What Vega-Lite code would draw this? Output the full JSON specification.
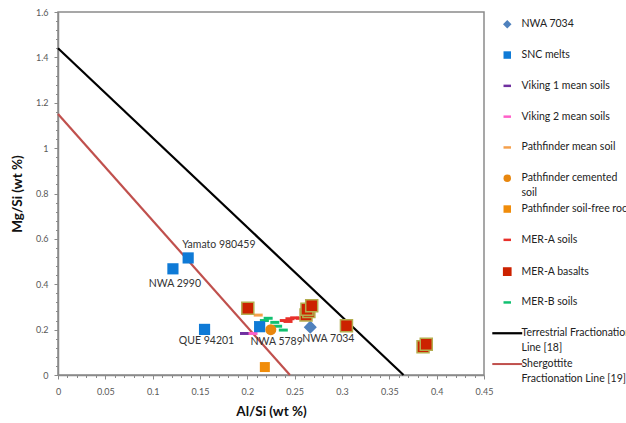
{
  "$schema": "https://vega.github.io/schema/vega-lite/v6.json",
  "width": 426,
  "height": 363,
  "autosize": {"type": "none"},
  "padding": {"left": 58, "top": 12, "right": 142, "bottom": 48},
  "config": {
    "font": "Lato",
    "view": {"stroke": "#8a8a8a", "strokeWidth": 1.5},
    "axis": {
      "domainColor": "#8a8a8a", "domainWidth": 1.5, "tickColor": "#8a8a8a", "grid": false,
      "labelFont": "Lato", "labelFontSize": 9, "labelColor": "#595959",
      "titleFont": "Lato", "titleFontSize": 13.5, "titleFontWeight": "bold", "titleColor": "#111"
    }
  },
  "datasets": {
    "pts": [
      {"series": "NWA 7034", "x": 0.2665, "y": 0.211, "name": "NWA 7034"},
      {"series": "SNC melts", "x": 0.1214, "y": 0.468, "name": "NWA 2990"},
      {"series": "SNC melts", "x": 0.1375, "y": 0.516, "name": "Yamato 980459"},
      {"series": "SNC melts", "x": 0.1548, "y": 0.201, "name": "QUE 94201"},
      {"series": "SNC melts", "x": 0.213, "y": 0.213, "name": "NWA 5789"},
      {"series": "Viking 1 mean soils", "x": 0.197, "y": 0.183},
      {"series": "Viking 2 mean soils", "x": 0.206, "y": 0.183},
      {"series": "Pathfinder mean soil", "x": 0.2115, "y": 0.264},
      {"series": "Pathfinder cemented soil", "x": 0.2248, "y": 0.2},
      {"series": "Pathfinder soil-free rock", "x": 0.2185, "y": 0.035},
      {"series": "MER-A soils", "x": 0.239, "y": 0.24},
      {"series": "MER-A soils", "x": 0.245, "y": 0.248},
      {"series": "MER-A soils", "x": 0.25, "y": 0.252},
      {"series": "MER-A soils", "x": 0.256, "y": 0.25},
      {"series": "MER-A soils", "x": 0.243, "y": 0.236},
      {"series": "MER-A basalts", "x": 0.2005, "y": 0.294},
      {"series": "MER-A basalts", "x": 0.262, "y": 0.265},
      {"series": "MER-A basalts", "x": 0.265, "y": 0.28},
      {"series": "MER-A basalts", "x": 0.263, "y": 0.29},
      {"series": "MER-A basalts", "x": 0.268, "y": 0.305},
      {"series": "MER-A basalts", "x": 0.3047, "y": 0.217},
      {"series": "MER-A basalts", "x": 0.3856, "y": 0.125},
      {"series": "MER-A basalts", "x": 0.389, "y": 0.135},
      {"series": "MER-B soils", "x": 0.218, "y": 0.24},
      {"series": "MER-B soils", "x": 0.222, "y": 0.25},
      {"series": "MER-B soils", "x": 0.229, "y": 0.232},
      {"series": "MER-B soils", "x": 0.232, "y": 0.215},
      {"series": "MER-B soils", "x": 0.238, "y": 0.198}
    ],
    "lines": [
      {"series": "Terrestrial Fractionation Line [18]", "x": 0, "y": 1.44},
      {"series": "Terrestrial Fractionation Line [18]", "x": 0.365, "y": 0},
      {"series": "Shergottite Fractionation Line [19]", "x": 0, "y": 1.15},
      {"series": "Shergottite Fractionation Line [19]", "x": 0.245, "y": 0}
    ]
  },
  "encoding": {
    "x": {
      "field": "x", "type": "quantitative", "title": "Al/Si (wt %)",
      "scale": {"domain": [0, 0.45], "nice": false},
      "axis": {
        "values": [0,0.01,0.02,0.03,0.04,0.05,0.06,0.07,0.08,0.09,0.1,0.11,0.12,0.13,0.14,0.15,0.16,0.17,0.18,0.19,0.2,0.21,0.22,0.23,0.24,0.25,0.26,0.27,0.28,0.29,0.3,0.31,0.32,0.33,0.34,0.35,0.36,0.37,0.38,0.39,0.4,0.41,0.42,0.43,0.44,0.45],
        "labelExpr": "abs(datum.value*20 - round(datum.value*20)) < 0.01 ? format(datum.value, '~g') : ''",
        "tickSize": {"condition": {"test": "abs(datum.value*20 - round(datum.value*20)) < 0.01", "value": 4}, "value": 2.5},
        "labelPadding": 8, "titlePadding": 8, "labelFlush": false
      }
    },
    "y": {
      "field": "y", "type": "quantitative", "title": "Mg/Si (wt %)",
      "scale": {"domain": [0, 1.6], "nice": false},
      "axis": {
        "values": [0,0.04,0.08,0.12,0.16,0.2,0.24,0.28,0.32,0.36,0.4,0.44,0.48,0.52,0.56,0.6,0.64,0.68,0.72,0.76,0.8,0.84,0.88,0.92,0.96,1,1.04,1.08,1.12,1.16,1.2,1.24,1.28,1.32,1.36,1.4,1.44,1.48,1.52,1.56,1.6],
        "labelExpr": "abs(datum.value*5 - round(datum.value*5)) < 0.01 ? format(datum.value, '~g') : ''",
        "tickSize": {"condition": {"test": "abs(datum.value*5 - round(datum.value*5)) < 0.01", "value": 4}, "value": 2.5},
        "labelPadding": 6, "titlePadding": 11
      }
    },
    "color": {
      "field": "series", "type": "nominal",
      "scale": {
        "domain": ["NWA 7034", "SNC melts", "Viking 1 mean soils", "Viking 2 mean soils", "Pathfinder mean soil", "Pathfinder cemented soil", "Pathfinder soil-free rock", "MER-A soils", "MER-A basalts", "MER-B soils", "Terrestrial Fractionation Line [18]", "Shergottite Fractionation Line [19]"],
        "range": ["#4f81bd", "#0f7ad6", "#7030a0", "#ff5fc8", "#f5a04c", "#e8870e", "#f08c0a", "#e8302a", "#cc2200", "#10c070", "#000000", "#c0504d"]
      },
      "legend": {
        "title": null, "orient": "none", "legendX": 444, "legendY": 7, "padding": 0,
        "symbolSize": 56, "labelFont": "Lato", "labelFontSize": 10.5, "labelColor": "#222",
        "labelLimit": 400, "labelOffset": 9, "rowPadding": 4.8,
        "labelExpr": "datum.label == 'Pathfinder cemented soil' ? ['Pathfinder cemented', 'soil'] : datum.label == 'Terrestrial Fractionation Line [18]' ? ['Terrestrial Fractionation', 'Line [18]'] : datum.label == 'Shergottite Fractionation Line [19]' ? ['Shergottite', 'Fractionation Line [19]'] : [datum.label, ' ']",
        "encode": {
          "labels": {
            "update": {"lineHeight": {"value": 14.5}}
          },
          "symbols": {
            "update": {
              "fill": {"scale": "color", "field": "value"},
              "stroke": {"signal": "datum.value === 'MER-A basalts' ? '#b3ad4f' : scale('color', datum.value)"},
              "strokeWidth": {"signal": "datum.value === 'MER-A basalts' ? 1.2 : 0"},
              "size": {"signal": "datum.value === 'NWA 7034' ? 72 : 56"},
              "opacity": {"value": 1},
              "fillOpacity": {"value": 1}
            }
          }
        }
      }
    },
    "shape": {
      "field": "series", "type": "nominal",
      "scale": {
        "domain": ["NWA 7034", "SNC melts", "Viking 1 mean soils", "Viking 2 mean soils", "Pathfinder mean soil", "Pathfinder cemented soil", "Pathfinder soil-free rock", "MER-A soils", "MER-A basalts", "MER-B soils", "Terrestrial Fractionation Line [18]", "Shergottite Fractionation Line [19]"],
        "range": ["diamond", "square", "M-1,-0.33H1V0.33H-1Z", "M-1,-0.33H1V0.33H-1Z", "M-1,-0.33H1V0.33H-1Z", "circle", "square", "M-1,-0.33H1V0.33H-1Z", "square", "M-1,-0.33H1V0.33H-1Z", "M-4,-0.3H4V0.3H-4Z", "M-4,-0.27H4V0.27H-4Z"]
      }
    }
  },
  "layer": [
    {
      "data": {"name": "lines"},
      "mark": {"type": "line", "strokeWidth": 2.2},
      "encoding": {"shape": null, "detail": {"field": "series"}}
    },
    {
      "data": {"name": "pts"},
      "transform": [{"filter": "indexof(['Viking 1 mean soils', 'Viking 2 mean soils', 'Pathfinder mean soil', 'MER-A soils', 'MER-B soils'], datum.series) >= 0"}],
      "mark": {"type": "point", "filled": true, "opacity": 1, "size": 81}
    },
    {
      "data": {"name": "pts"},
      "transform": [{"filter": "datum.series === 'SNC melts'"}],
      "mark": {"type": "point", "filled": true, "opacity": 1, "size": 125}
    },
    {
      "data": {"name": "pts"},
      "transform": [{"filter": "datum.series === 'Pathfinder cemented soil'"}],
      "mark": {"type": "point", "filled": true, "opacity": 1, "size": 121}
    },
    {
      "data": {"name": "pts"},
      "transform": [{"filter": "datum.series === 'Pathfinder soil-free rock'"}],
      "mark": {"type": "point", "filled": true, "opacity": 1, "size": 100}
    },
    {
      "data": {"name": "pts"},
      "transform": [{"filter": "datum.series === 'NWA 7034'"}],
      "mark": {"type": "point", "filled": true, "opacity": 1, "size": 170}
    },
    {
      "data": {"name": "pts"},
      "transform": [{"filter": "datum.series === 'MER-A basalts'"}],
      "mark": {"type": "point", "filled": true, "opacity": 1, "size": 144, "stroke": "#b3ad4f", "strokeWidth": 1.5}
    },
    {
      "data": {"name": "pts"},
      "transform": [{"filter": "datum.name === 'Yamato 980459'"}],
      "mark": {"type": "text", "align": "left", "dx": -6, "dy": -13, "fontSize": 10.5, "font": "Lato", "color": "#333"},
      "encoding": {"text": {"field": "name"}, "color": null, "shape": null}
    },
    {
      "data": {"name": "pts"},
      "transform": [{"filter": "datum.name === 'NWA 2990'"}],
      "mark": {"type": "text", "align": "center", "dx": 2, "dy": 15, "fontSize": 10.5, "font": "Lato", "color": "#333"},
      "encoding": {"text": {"field": "name"}, "color": null, "shape": null}
    },
    {
      "data": {"name": "pts"},
      "transform": [{"filter": "datum.name === 'QUE 94201'"}],
      "mark": {"type": "text", "align": "center", "dx": 2, "dy": 12, "fontSize": 10.5, "font": "Lato", "color": "#333"},
      "encoding": {"text": {"field": "name"}, "color": null, "shape": null}
    },
    {
      "data": {"name": "pts"},
      "transform": [{"filter": "datum.name === 'NWA 5789'"}],
      "mark": {"type": "text", "align": "center", "dx": 17, "dy": 15, "fontSize": 10.5, "font": "Lato", "color": "#333"},
      "encoding": {"text": {"field": "name"}, "color": null, "shape": null}
    },
    {
      "data": {"name": "pts"},
      "transform": [{"filter": "datum.name === 'NWA 7034'"}],
      "mark": {"type": "text", "align": "center", "dx": 18, "dy": 12, "fontSize": 10.5, "font": "Lato", "color": "#333"},
      "encoding": {"text": {"field": "name"}, "color": null, "shape": null}
    }
  ]
}
